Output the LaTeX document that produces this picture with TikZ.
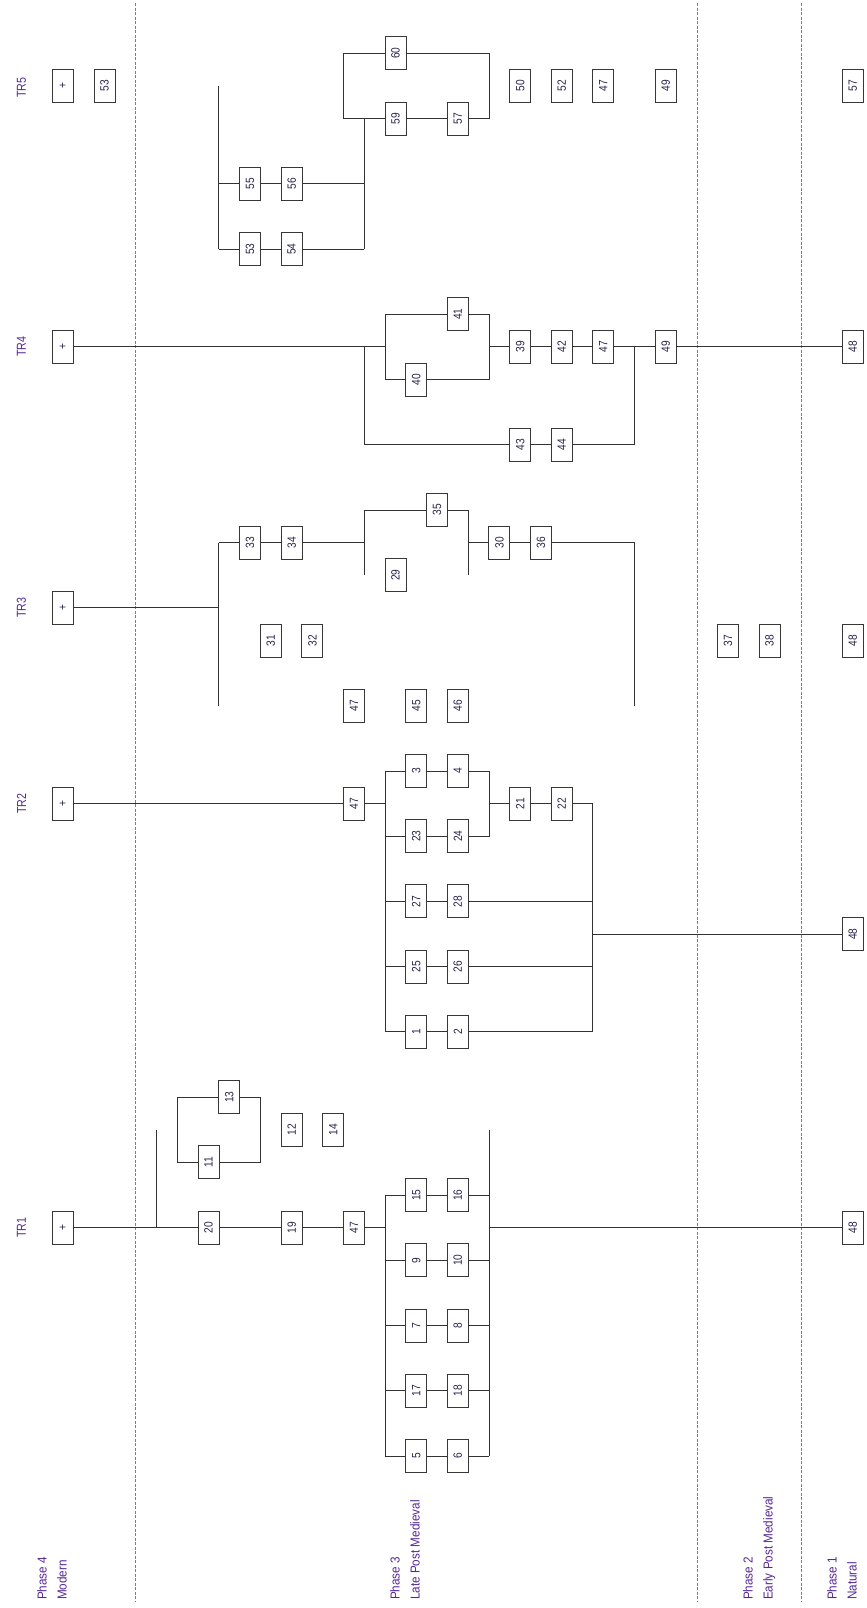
\documentclass[tikz,border=0pt]{standalone}
\usepackage{fontspec}
\setmainfont{Liberation Sans}
\usepackage{graphicx}
\definecolor{boxc}{RGB}{55,55,55}
\definecolor{linec}{RGB}{50,50,50}
\definecolor{numc}{RGB}{45,35,75}
\definecolor{labc}{RGB}{85,40,150}
\definecolor{phc}{RGB}{255,70,70}
\newcommand{\vnum}[1]{\rotatebox{90}{\scalebox{0.85}[1]{#1}}}
\begin{document}
\begin{tikzpicture}[x=20.78pt, y=-32.62pt,
 box/.style={draw=boxc, line width=0.9pt, fill=white, minimum width=21pt, minimum height=33pt, inner sep=0pt, font=\fontsize{12}{12}\selectfont, text=numc},
 conn/.style={draw=linec, line width=0.9pt},
 phaseline/.style={draw=phc, line width=0.8pt, dash pattern=on 3pt off 1.5pt},
 trlab/.style={rotate=90, xscale=0.82, font=\fontsize{13}{13}\selectfont, text=labc, inner sep=0pt},
 phlab/.style={rotate=90, xscale=0.9, anchor=north west, align=left, font=\fontsize{13}{20}\selectfont, text=labc, inner sep=0pt}
]
\fill[white] (-10.0337,-1.634) rectangle (31.641,47.661);
\useasboundingbox (-10.0337,-1.634) rectangle (31.641,47.661);

% phase separators
\coordinate (r1t) at (-3.513,-1.54); \coordinate (r1b) at (-3.513,47.45);
\coordinate (r2t) at (23.53,-1.54);  \coordinate (r2b) at (23.53,47.45);
\coordinate (r3t) at (28.54,-1.54);  \coordinate (r3b) at (28.54,47.45);
\draw[phaseline] (r1t) -- (r1b);
\draw[phaseline] (r2t) -- (r2b);
\draw[phaseline] (r3t) -- (r3b);

% phase labels
\node[phlab] (ph4) at (-8.253,47.416) {Phase 4\\Modern};
\node[phlab] (ph3) at (8.735,47.416) {Phase 3\\Late Post Medieval};
\node[phlab] (ph2) at (25.72,47.416) {Phase 2\\Early Post Medieval};
\node[phlab] (ph1) at (29.76,47.416) {Phase 1\\Natural};

% trench labels
\node[trlab] (tr5) at (-9,1.05) {TR5};
\node[trlab] (tr4) at (-9,9) {TR4};
\node[trlab] (tr3) at (-9,17) {TR3};
\node[trlab] (tr2) at (-9,23) {TR2};
\node[trlab] (tr1) at (-9,36) {TR1};

% ---------------- TR5 ----------------
\node[box] (t5p) at (-7,1) {\vnum{+}};
\node[box] (n53a) at (-5,1) {\vnum{53}};
\node[box] (n60) at (9,0) {\vnum{60}};
\node[box] (n59) at (9,2) {\vnum{59}};
\node[box] (n57a) at (12,2) {\vnum{57}};
\node[box] (n50) at (15,1) {\vnum{50}};
\node[box] (n52) at (17,1) {\vnum{52}};
\node[box] (n47e) at (19,1) {\vnum{47}};
\node[box] (n49b) at (22,1) {\vnum{49}};
\node[box] (n57b) at (31,1) {\vnum{57}};
\node[box] (n55) at (2,4) {\vnum{55}};
\node[box] (n56) at (4,4) {\vnum{56}};
\node[box] (n53b) at (2,6) {\vnum{53}};
\node[box] (n54) at (4,6) {\vnum{54}};
\coordinate (a1) at (0.5,1);
\coordinate (a2) at (0.5,4);
\coordinate (a3) at (0.5,6);
\coordinate (a4) at (7.5,4);
\coordinate (a5) at (7.5,6);
\coordinate (a6) at (7.5,2);
\coordinate (a7) at (6.5,2);
\coordinate (a8) at (6.5,0);
\coordinate (a9) at (13.5,0);
\coordinate (a10) at (13.5,2);
\draw[conn] (a1) -- (a3);
\draw[conn] (a2) -- (n55) -- (n56) -- (a4);
\draw[conn] (a3) -- (n53b) -- (n54) -- (a5);
\draw[conn] (a6) -- (a5);
\draw[conn] (a8) -- (a7) -- (n59) -- (n57a) -- (a10) -- (a9) -- (n60) -- (a8);

% ---------------- TR4 ----------------
\node[box] (t4p) at (-7,9) {\vnum{+}};
\node[box] (n41) at (12,8) {\vnum{41}};
\node[box] (n40) at (10,10) {\vnum{40}};
\node[box] (n39) at (15,9) {\vnum{39}};
\node[box] (n42) at (17,9) {\vnum{42}};
\node[box] (n47d) at (19,9) {\vnum{47}};
\node[box] (n49a) at (22,9) {\vnum{49}};
\node[box] (n48d) at (31,9) {\vnum{48}};
\node[box] (n43) at (15,12) {\vnum{43}};
\node[box] (n44) at (17,12) {\vnum{44}};
\coordinate (b1) at (7.5,9);
\coordinate (b2) at (7.5,12);
\coordinate (b3) at (8.5,9);
\coordinate (b4) at (8.5,8);
\coordinate (b5) at (8.5,10);
\coordinate (b6) at (13.5,8);
\coordinate (b7) at (13.5,10);
\coordinate (b8) at (13.5,9);
\coordinate (b9) at (20.5,9);
\coordinate (b10) at (20.5,12);
\draw[conn] (t4p) -- (b1) -- (b3);
\draw[conn] (b1) -- (b2) -- (n43) -- (n44) -- (b10) -- (b9);
\draw[conn] (b4) -- (b5);
\draw[conn] (b4) -- (n41) -- (b6) -- (b7) -- (n40) -- (b5);
\draw[conn] (b8) -- (n39) -- (n42) -- (n47d) -- (n49a) -- (n48d);

% ---------------- TR3 ----------------
\node[box] (t3p) at (-7,17) {\vnum{+}};
\node[box] (n33) at (2,15) {\vnum{33}};
\node[box] (n34) at (4,15) {\vnum{34}};
\node[box] (n35) at (11,14) {\vnum{35}};
\node[box] (n30) at (14,15) {\vnum{30}};
\node[box] (n36) at (16,15) {\vnum{36}};
\node[box] (n29) at (9,16) {\vnum{29}};
\node[box] (n31) at (3,18) {\vnum{31}};
\node[box] (n32) at (5,18) {\vnum{32}};
\node[box] (n47c) at (7,20) {\vnum{47}};
\node[box] (n45) at (10,20) {\vnum{45}};
\node[box] (n46) at (12,20) {\vnum{46}};
\node[box] (n37) at (25,18) {\vnum{37}};
\node[box] (n38) at (27,18) {\vnum{38}};
\node[box] (n48c) at (31,18) {\vnum{48}};
\coordinate (c1) at (0.5,17);
\coordinate (c2) at (0.5,15);
\coordinate (c3) at (0.5,20);
\coordinate (c4) at (7.5,15);
\coordinate (c5) at (7.5,14);
\coordinate (c6) at (7.5,16);
\coordinate (c7) at (12.5,14);
\coordinate (c8) at (12.5,16);
\coordinate (c9) at (12.5,15);
\coordinate (c10) at (20.5,15);
\coordinate (c11) at (20.5,20);
\draw[conn] (t3p) -- (c1);
\draw[conn] (c2) -- (c3);
\draw[conn] (c2) -- (n33) -- (n34) -- (c4);
\draw[conn] (c5) -- (c6);
\draw[conn] (c5) -- (n35) -- (c7) -- (c8);
\draw[conn] (c9) -- (n30) -- (n36) -- (c10) -- (c11);

% ---------------- TR2 ----------------
\node[box] (t2p) at (-7,23) {\vnum{+}};
\node[box] (n47b) at (7,23) {\vnum{47}};
\node[box] (n3) at (10,22) {\vnum{3}};
\node[box] (n4) at (12,22) {\vnum{4}};
\node[box] (n23) at (10,24) {\vnum{23}};
\node[box] (n24) at (12,24) {\vnum{24}};
\node[box] (n27) at (10,26) {\vnum{27}};
\node[box] (n28) at (12,26) {\vnum{28}};
\node[box] (n25) at (10,28) {\vnum{25}};
\node[box] (n26) at (12,28) {\vnum{26}};
\node[box] (n1) at (10,30) {\vnum{1}};
\node[box] (n2) at (12,30) {\vnum{2}};
\node[box] (n21) at (15,23) {\vnum{21}};
\node[box] (n22) at (17,23) {\vnum{22}};
\node[box] (n48b) at (31,27) {\vnum{48}};
\coordinate (d1) at (8.5,23);
\coordinate (d22) at (8.5,22);
\coordinate (d24) at (8.5,24);
\coordinate (d26) at (8.5,26);
\coordinate (d28) at (8.5,28);
\coordinate (d30) at (8.5,30);
\coordinate (d4) at (13.5,22);
\coordinate (d5) at (13.5,24);
\coordinate (d6) at (13.5,23);
\coordinate (d7) at (18.5,23);
\coordinate (e26) at (18.5,26);
\coordinate (e28) at (18.5,28);
\coordinate (d8) at (18.5,30);
\coordinate (d9) at (18.5,27);
\draw[conn] (t2p) -- (n47b) -- (d1);
\draw[conn] (d22) -- (d30);
\draw[conn] (d22) -- (n3) -- (n4) -- (d4) -- (d5) -- (n24) -- (n23) -- (d24);
\draw[conn] (d6) -- (n21) -- (n22) -- (d7) -- (d8);
\draw[conn] (d26) -- (n27) -- (n28) -- (e26);
\draw[conn] (d28) -- (n25) -- (n26) -- (e28);
\draw[conn] (d30) -- (n1) -- (n2) -- (d8);
\draw[conn] (d9) -- (n48b);

% ---------------- TR1 ----------------
\node[box] (t1p) at (-7,36) {\vnum{+}};
\node[box] (n20) at (0,36) {\vnum{20}};
\node[box] (n19) at (4,36) {\vnum{19}};
\node[box] (n47a) at (7,36) {\vnum{47}};
\node[box] (n13) at (1,32) {\vnum{13}};
\node[box] (n11) at (0,34) {\vnum{11}};
\node[box] (n12) at (4,33) {\vnum{12}};
\node[box] (n14) at (6,33) {\vnum{14}};
\node[box] (n15) at (10,35) {\vnum{15}};
\node[box] (n16) at (12,35) {\vnum{16}};
\node[box] (n9) at (10,37) {\vnum{9}};
\node[box] (n10) at (12,37) {\vnum{10}};
\node[box] (n7) at (10,39) {\vnum{7}};
\node[box] (n8) at (12,39) {\vnum{8}};
\node[box] (n17) at (10,41) {\vnum{17}};
\node[box] (n18) at (12,41) {\vnum{18}};
\node[box] (n5) at (10,43) {\vnum{5}};
\node[box] (n6) at (12,43) {\vnum{6}};
\node[box] (n48a) at (31,36) {\vnum{48}};
\coordinate (g1) at (-2.5,36);
\coordinate (g2) at (-2.5,33);
\coordinate (f1) at (-1.5,32);
\coordinate (f2) at (-1.5,34);
\coordinate (f3) at (2.5,32);
\coordinate (f4) at (2.5,34);
\coordinate (h1) at (8.5,36);
\coordinate (h35) at (8.5,35);
\coordinate (h37) at (8.5,37);
\coordinate (h39) at (8.5,39);
\coordinate (h41) at (8.5,41);
\coordinate (h43) at (8.5,43);
\coordinate (k33) at (13.5,33);
\coordinate (k35) at (13.5,35);
\coordinate (k36) at (13.5,36);
\coordinate (k37) at (13.5,37);
\coordinate (k39) at (13.5,39);
\coordinate (k41) at (13.5,41);
\coordinate (k43) at (13.5,43);
\draw[conn] (t1p) -- (g1) -- (n20) -- (n19) -- (n47a) -- (h1);
\draw[conn] (g2) -- (g1);
\draw[conn] (f1) -- (n13) -- (f3) -- (f4) -- (n11) -- (f2) -- (f1);
\draw[conn] (h35) -- (h43);
\draw[conn] (k33) -- (k43);
\draw[conn] (h35) -- (n15) -- (n16) -- (k35);
\draw[conn] (h37) -- (n9) -- (n10) -- (k37);
\draw[conn] (h39) -- (n7) -- (n8) -- (k39);
\draw[conn] (h41) -- (n17) -- (n18) -- (k41);
\draw[conn] (h43) -- (n5) -- (n6) -- (k43);
\draw[conn] (k36) -- (n48a);
\end{tikzpicture}
\end{document}
